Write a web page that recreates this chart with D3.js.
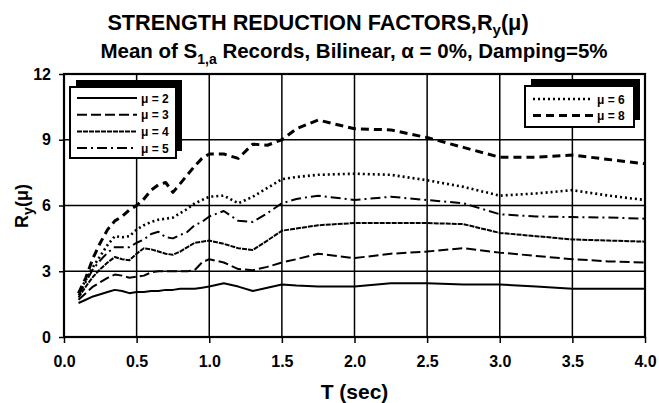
<!DOCTYPE html>
<html><head><meta charset="utf-8">
<script src="https://cdn.jsdelivr.net/npm/d3@7"></script>
<style>body{margin:0;background:#fff}svg{display:block}text{font-family:"Liberation Sans",Arial,sans-serif;font-weight:bold;fill:#000}</style>
</head><body><div id="chart"></div>
<script>
const periods = [0.1,0.15,0.2,0.25,0.3,0.35,0.4,0.45,0.5,0.55,0.6,0.65,0.7,0.75,0.8,0.85,0.9,0.95,1.0,1.1,1.2,1.3,1.4,1.5,1.6,1.75,2.0,2.25,2.5,2.75,3.0,3.25,3.5,3.75,4.0];
const mu2 = [1.55,1.7,1.85,1.95,2.05,2.15,2.1,2.0,2.05,2.05,2.1,2.1,2.15,2.15,2.2,2.2,2.2,2.25,2.3,2.45,2.3,2.1,2.25,2.4,2.35,2.3,2.3,2.45,2.45,2.4,2.4,2.3,2.2,2.2,2.2];
const mu3 = [1.7,2.0,2.3,2.5,2.7,2.85,2.8,2.7,2.75,2.8,2.95,3.0,3.0,3.0,3.0,3.0,3.05,3.4,3.55,3.4,3.1,3.05,3.2,3.4,3.55,3.8,3.6,3.8,3.9,4.05,3.85,3.7,3.55,3.45,3.4];
const mu4 = [1.8,2.3,2.75,3.1,3.4,3.65,3.55,3.5,3.8,4.05,4.0,3.9,3.8,3.75,3.9,4.1,4.3,4.35,4.4,4.25,4.05,3.97,4.4,4.85,4.95,5.1,5.2,5.2,5.2,5.15,4.75,4.6,4.45,4.4,4.35];
const mu5 = [1.9,2.5,3.1,3.5,3.85,4.1,4.1,4.1,4.3,4.45,4.7,4.8,4.55,4.5,4.65,4.8,5.1,5.25,5.5,5.75,5.3,5.25,5.65,6.1,6.3,6.45,6.25,6.4,6.25,6.1,5.6,5.5,5.47,5.45,5.4];
const mu6 = [2.0,2.6,3.2,3.7,4.2,4.6,4.55,4.6,4.9,5.1,5.25,5.35,5.4,5.45,5.65,5.85,6.1,6.25,6.4,6.45,6.1,6.4,6.8,7.2,7.3,7.4,7.45,7.4,7.15,6.85,6.45,6.55,6.7,6.45,6.25];
const mu8 = [2.0,2.7,3.6,4.3,4.9,5.3,5.5,5.8,6.0,6.3,6.7,6.95,7.05,6.6,7.0,7.4,7.8,8.15,8.35,8.35,8.15,8.8,8.75,9.0,9.5,9.9,9.5,9.45,9.1,8.65,8.2,8.2,8.3,8.1,7.9];
const xTicks = [0,0.5,1,1.5,2,2.5,3,3.5,4];
const xTickLabels = ["0.0","0.5","1.0","1.5","2.0","2.5","3.0","3.5","4.0"];
const yTicks = [0,3,6,9,12];
const legendLeft = ["μ = 2","μ = 3","μ = 4","μ = 5"];
const legendRight = ["μ = 6","μ = 8"];

const series = [
  {name:"μ = 2", values:mu2, dash:null, w:2},
  {name:"μ = 3", values:mu3, dash:"10,4", w:2},
  {name:"μ = 4", values:mu4, dash:"5,1", w:2},
  {name:"μ = 5", values:mu5, dash:"10,4,2,4", w:2},
  {name:"μ = 6", values:mu6, dash:"2,3", w:2.6},
  {name:"μ = 8", values:mu8, dash:"8,5", w:3}
];
const byName = Object.fromEntries(series.map(s=>[s.name,s]));

const W=659,H=403;
const m={left:64,right:14,top:74,bottom:66};
const svg=d3.select("#chart").append("svg").attr("width",W).attr("height",H);
const x=d3.scaleLinear().domain([0,4]).range([m.left,W-m.right]);
const y=d3.scaleLinear().domain([0,12]).range([H-m.bottom,m.top]);

// grid
const g=svg.append("g");
g.selectAll(".vg").data(xTicks).join("line").attr("x1",d=>x(d)).attr("x2",d=>x(d))
 .attr("y1",y(0)).attr("y2",y(12)).attr("stroke","#000").attr("stroke-width",1.5);
g.selectAll(".hg").data(yTicks).join("line").attr("x1",x(0)).attr("x2",x(4))
 .attr("y1",d=>y(d)).attr("y2",d=>y(d)).attr("stroke","#000").attr("stroke-width",1.5);
svg.append("rect").attr("x",x(0)).attr("y",y(12)).attr("width",x(4)-x(0)).attr("height",y(0)-y(12))
 .attr("fill","none").attr("stroke","#000").attr("stroke-width",2.2);

// axes
const xa=svg.append("g").attr("transform",`translate(0,${y(0)})`)
 .call(d3.axisBottom(x).tickValues(xTicks).tickFormat((d,i)=>xTickLabels[i]).tickSize(6).tickPadding(13));
const ya=svg.append("g").attr("transform",`translate(${x(0)},0)`)
 .call(d3.axisLeft(y).tickValues(yTicks).tickSize(5).tickPadding(8));
[xa,ya].forEach(a=>{a.select(".domain").remove();a.selectAll("line").attr("stroke","#000").attr("stroke-width",1.5);
 a.selectAll("text").style("font-size","16px").style("font-weight","bold").attr("fill","#000");});

// lines
const line=d3.line().x((d,i)=>x(periods[i])).y(d=>y(d)).curve(d3.curveLinear);
svg.append("g").selectAll("path").data(series).join("path")
 .attr("d",s=>line(s.values)).attr("fill","none").attr("stroke","#000")
 .attr("stroke-width",s=>s.w).attr("stroke-dasharray",s=>s.dash).attr("stroke-linejoin","round");

// legends
function legend(items,bx,by,bw,bh,lx1,lx2,ty0,dy){
  const lg=svg.append("g");
  lg.append("rect").attr("x",bx+6).attr("y",by-7).attr("width",bw).attr("height",bh).attr("fill","#000");
  lg.append("rect").attr("x",bx).attr("y",by).attr("width",bw).attr("height",bh).attr("fill","#fff").attr("stroke","#000").attr("stroke-width",2);
  items.forEach((n,i)=>{const s=byName[n];const yy=ty0+i*dy;
    lg.append("line").attr("x1",lx1).attr("x2",lx2).attr("y1",yy).attr("y2",yy).attr("stroke","#000")
      .attr("stroke-width",s.w).attr("stroke-dasharray",s.dash);
    lg.append("text").attr("x",lx2+4).attr("y",yy+4.5).style("font-size","12px").text(n);});
}
legend(legendLeft,70,87,106,71,77,137,98,16.7);
legend(legendRight,525,86,109,41,533,593,99,16.5);

// titles
svg.append("text").attr("x",318).attr("y",30).attr("text-anchor","middle").style("font-size","21.7px")
 .html('STRENGTH REDUCTION FACTORS,R<tspan dy="5" font-size="15px">y</tspan><tspan dy="-5">(μ)</tspan>');
svg.append("text").attr("x",354).attr("y",58).attr("text-anchor","middle").style("font-size","20.5px")
 .html('Mean of S<tspan dy="6" font-size="14px">1,a</tspan><tspan dy="-6"> Records, Bilinear, α = 0%, Damping=5%</tspan>');
svg.append("text").attr("x",x(2)).attr("y",399).attr("text-anchor","middle").style("font-size","21px").text("T (sec)");
svg.append("text").attr("transform",`translate(28,${206}) rotate(-90)`).attr("text-anchor","middle").style("font-size","18px")
 .html('R<tspan dy="5" font-size="14px">y</tspan><tspan dy="-5">(μ)</tspan>');
</script></body></html>
